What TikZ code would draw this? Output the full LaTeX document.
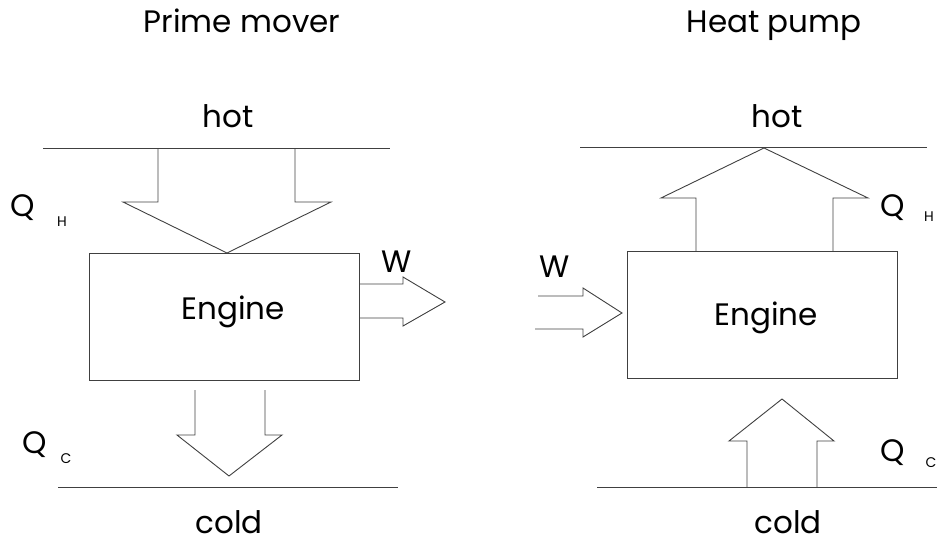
\documentclass[tikz,border=0pt]{standalone}
\usepackage{fontspec}
\setmainfont{Poppins}
\begin{document}
\begin{tikzpicture}[x=1pt,y=-1pt,
  ln/.style={draw=black!75,line width=0.9pt,line join=miter},
  lbl/.style={inner sep=0pt,anchor=base,font=\fontsize{31}{34}\selectfont},
  sub/.style={inner sep=0pt,anchor=base,font=\fontsize{14}{16}\selectfont},
  eng/.style={draw=black!75,line width=0.9pt,minimum width=270pt,minimum height=127pt,inner sep=0pt}]
\useasboundingbox (0,0) rectangle (938,543);
% titles
\node[lbl] (t1) at (242,33) {Prime mover};
\node[lbl] (t2) at (774,33) {Heat pump};
% ---- left: prime mover
\node[lbl] (hotL) at (228,128) {hot};
\coordinate (hlA) at (43,148); \coordinate (hlB) at (390,148);
\draw[ln] (hlA) -- (hlB);
\node[eng] (engL) at (224,316.5) {};
\node[lbl] at (233,319) {Engine};
\draw[ln] (158,148) -- (158,202) -- (123,202) -- (227,253) -- (331,202) -- (295,202) -- (295,148);
\draw[ln] (359,284) -- (403,284) -- (403,277) -- (445,302) -- (403,326) -- (403,318) -- (359,318);
\node[lbl] (wL) at (397,272) {W};
\draw[ln] (195,390) -- (195,435) -- (177,435) -- (229,476) -- (282,435) -- (265,435) -- (265,390);
\coordinate (clA) at (58,487); \coordinate (clB) at (398,487);
\draw[ln] (clA) -- (clB);
\node[lbl] (coldL) at (229,533) {cold};
\node[lbl] (qhL) at (23,216) {Q};
\node[sub] (qhLs) at (62,226) {H};
\node[lbl] (qcL) at (35,453) {Q};
\node[sub] (qcLs) at (66,463) {C};
% ---- right: heat pump
\node[lbl] (hotR) at (777,128) {hot};
\coordinate (hrA) at (580,147); \coordinate (hrB) at (927,147);
\draw[ln] (hrA) -- (hrB);
\node[eng] (engR) at (762,315) {};
\node[lbl] at (766,325) {Engine};
\draw[ln] (696,251) -- (696,198) -- (661,198) -- (764,148) -- (868,198) -- (833,198) -- (833,251);
\draw[ln] (538,296) -- (583,296) -- (583,288) -- (622,313) -- (583,337) -- (583,329) -- (535,329);
\node[lbl] (wR) at (555,277) {W};
\draw[ln] (747,487) -- (747,441) -- (729,441) -- (782,399) -- (834,441) -- (817,441) -- (817,487);
\coordinate (crA) at (597,487); \coordinate (crB) at (937,487);
\draw[ln] (crA) -- (crB);
\node[lbl] (coldR) at (788,533) {cold};
\node[lbl] (qhR) at (893,216) {Q};
\node[sub] (qhRs) at (929,221) {H};
\node[lbl] (qcR) at (893,461) {Q};
\node[sub] (qcRs) at (931,467) {C};
\end{tikzpicture}
\end{document}
